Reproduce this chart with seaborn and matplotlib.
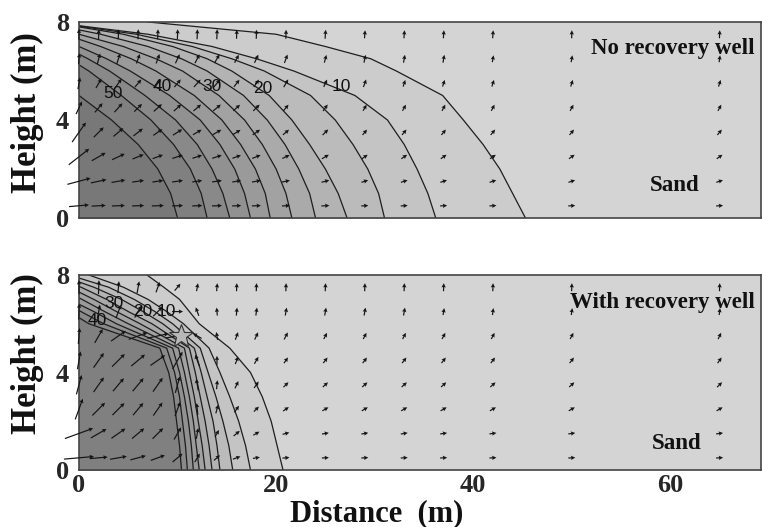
import numpy as np
import matplotlib
matplotlib.use("Agg")
import matplotlib.pyplot as plt
import seaborn as sns

# ---------------- data ----------------
heights = [0, 1, 2, 3, 4, 5, 6, 6.5, 7, 7.5, 8]
levels = [5, 10, 15, 20, 25, 30, 35, 40, 45, 50, 55]

# x-position (m) of each concentration contour at each height, no recovery well
top_front = {
    5:  [45.3, 44.0, 42.7, 41.0, 39.0, 36.9, 32.2, 29.6, 25.0, 20.0, 7.0],
    10: [36.2, 35.4, 34.3, 33.0, 31.3, 28.0, 21.8, 18.0, 13.5, 7.0, -3],
    15: [31.0, 30.4, 29.3, 27.8, 26.0, 23.5, 18.8, 15.5, 11.5, 5.8, -3],
    20: [27.2, 26.3, 25.0, 23.4, 21.6, 19.3, 15.5, 13.0, 9.5, 4.5, -3],
    25: [24.0, 23.4, 22.3, 20.9, 19.1, 16.7, 13.0, 10.4, 7.0, 2.2, -4],
    30: [21.6, 21.0, 20.0, 18.6, 16.8, 14.2, 10.5, 7.8, 4.5, 0.0, -5],
    35: [19.4, 18.9, 17.9, 16.4, 14.5, 11.7, 7.8, 5.3, 2.2, -1.5, -5],
    40: [17.4, 16.8, 15.8, 14.3, 12.3, 9.2, 5.2, 2.8, 0.0, -3, -6],
    45: [15.3, 14.6, 13.5, 12.0, 9.8, 6.7, 3.1, 0.9, -1.5, -4, -7],
    50: [13.0, 12.4, 11.3, 9.6, 7.3, 4.3, 1.0, -1.0, -3, -5, -8],
    55: [10.0, 9.3, 8.0, 6.0, 3.3, 0.0, -2, -3, -4, -6, -9],
}
# with recovery well
bot_front = {
    5:  [20.7, 20.1, 19.5, 18.6, 17.4, 15.3, 12.2, 11.2, 10.2, 8.6, 6.9],
    10: [17.4, 16.9, 16.2, 15.3, 14.3, 13.2, 10.6, 8.9, 7.0, 4.5, 1.0],
    15: [15.6, 15.2, 14.6, 13.9, 13.1, 12.3, 9.5, 7.7, 5.6, 3.0, -1],
    20: [14.3, 14.0, 13.6, 13.0, 12.4, 11.7, 8.5, 6.5, 4.3, 1.5, -2],
    25: [13.5, 13.2, 12.8, 12.3, 11.8, 11.2, 7.4, 5.0, 2.8, 0.2, -3],
    30: [12.8, 12.5, 12.1, 11.7, 11.2, 10.7, 6.2, 3.8, 1.5, -1, -4],
    35: [12.2, 11.9, 11.6, 11.2, 10.7, 10.1, 5.0, 2.6, 0.3, -2, -5],
    40: [11.6, 11.4, 11.1, 10.7, 10.2, 9.5, 3.8, 1.5, -1, -3, -6],
    45: [11.0, 10.8, 10.5, 10.2, 9.7, 8.9, 2.5, 0.2, -2, -4, -7],
    50: [10.4, 10.2, 9.9, 9.6, 9.1, 8.2, 1.0, -1, -3, -5, -8],
}

top_label_text = ["50", "40", "30", "20", "10"]
top_label_x = [3.4, 8.4, 13.5, 18.6, 26.6]
top_label_y = [5.1, 5.35, 5.35, 5.3, 5.35]
bot_label_text = ["40", "30", "20", "10"]
bot_label_x = [1.9, 3.6, 6.5, 8.9]
bot_label_y = [6.15, 6.85, 6.5, 6.5]

well_x = [10.3]
well_y = [5.5]

arrow_x = [0, 2, 4, 6, 8, 10, 12, 14, 16, 18, 21, 25, 29, 33, 37, 42, 50, 65]
arrow_y = [7.5, 6.5, 5.5, 4.5, 3.5, 2.5, 1.5, 0.5]

# relative velocity magnitude and direction (deg), rows top -> bottom
top_speed = [
    [11, 10, 10, 10, 10, 10, 10, 10, 9, 9, 9, 9, 8, 8, 8, 8, 8, 8],
    [11, 11, 11, 10, 10, 10, 10, 10, 9, 9, 9, 8, 8, 8, 8, 7, 7, 7],
    [12, 11, 11, 10, 10, 10, 10, 10, 9, 9, 9, 8, 8, 7, 7, 7, 7, 7],
    [14, 12, 12, 11, 11, 10, 10, 10, 9, 9, 8, 8, 7, 7, 7, 7, 7, 7],
    [24, 14, 13, 12, 11, 11, 10, 10, 9, 9, 8, 8, 7, 7, 7, 7, 7, 7],
    [26, 16, 14, 12, 11, 11, 10, 10, 9, 9, 8, 8, 7, 7, 7, 7, 7, 7],
    [24, 16, 14, 12, 11, 11, 10, 10, 9, 9, 8, 8, 7, 7, 7, 7, 7, 7],
    [20, 14, 13, 12, 12, 11, 10, 10, 9, 9, 8, 8, 7, 7, 7, 7, 7, 7],
]
top_angle = [
    [90, 88, 88, 88, 88, 88, 88, 88, 88, 88, 88, 86, 86, 86, 86, 86, 88, 88],
    [85, 75, 72, 70, 70, 65, 62, 60, 62, 65, 70, 75, 78, 80, 80, 80, 80, 82],
    [80, 60, 55, 50, 50, 50, 48, 50, 52, 55, 60, 65, 70, 72, 72, 72, 72, 72],
    [65, 50, 48, 45, 42, 42, 40, 40, 42, 45, 50, 55, 60, 60, 62, 62, 62, 62],
    [55, 45, 40, 38, 35, 32, 30, 30, 32, 35, 40, 45, 50, 50, 50, 50, 50, 50],
    [38, 30, 25, 22, 20, 18, 18, 18, 20, 22, 25, 30, 35, 35, 35, 35, 35, 35],
    [15, 12, 10, 8, 8, 8, 8, 8, 10, 10, 12, 15, 18, 18, 18, 18, 18, 18],
    [5, 3, 2, 2, 2, 2, 2, 2, 2, 2, 3, 3, 3, 3, 3, 3, 3, 3],
]
bot_speed = [
    [14, 14, 12, 12, 11, 9, 8, 8, 8, 8, 8, 8, 8, 8, 8, 8, 8, 8],
    [16, 14, 14, 14, 13, 11, 9, 8, 8, 8, 8, 8, 8, 8, 7, 7, 7, 7],
    [16, 16, 18, 20, 22, 24, 10, 8, 8, 8, 8, 7, 7, 7, 7, 7, 7, 7],
    [18, 18, 18, 18, 18, 20, 12, 9, 8, 8, 7, 7, 7, 7, 7, 7, 7, 7],
    [20, 18, 17, 17, 17, 17, 12, 9, 8, 8, 7, 7, 7, 7, 7, 7, 7, 7],
    [22, 18, 17, 16, 16, 15, 12, 9, 8, 7, 7, 7, 7, 7, 7, 7, 7, 7],
    [30, 18, 17, 16, 15, 14, 11, 8, 8, 7, 7, 7, 7, 7, 7, 7, 7, 7],
    [30, 18, 17, 16, 15, 13, 10, 8, 8, 7, 7, 7, 7, 7, 7, 7, 7, 7],
]
bot_angle = [
    [90, 88, 85, 80, 70, 50, 80, 85, 88, 88, 88, 88, 88, 88, 88, 88, 88, 88],
    [88, 80, 70, 60, 45, 0, 110, 95, 85, 82, 80, 80, 80, 80, 80, 82, 82, 82],
    [85, 60, 35, 20, 12, 10, 150, 100, 70, 65, 62, 62, 62, 62, 62, 62, 62, 65],
    [80, 55, 45, 40, 35, 60, 110, 90, 70, 60, 55, 52, 52, 52, 52, 52, 52, 55],
    [75, 55, 50, 50, 55, 75, 100, 85, 65, 55, 45, 42, 42, 42, 42, 42, 42, 45],
    [70, 45, 45, 50, 55, 70, 95, 75, 55, 45, 35, 30, 30, 30, 30, 30, 30, 30],
    [20, 30, 35, 40, 45, 60, 80, 60, 40, 30, 15, 10, 10, 10, 8, 8, 8, 8],
    [5, 5, 10, 15, 20, 40, 60, 40, 20, 10, 5, 3, 3, 3, 3, 3, 3, 3],
]

x_ticks = [0, 10, 20, 30, 40, 50, 60]
x_ticklabels = ["0", "", "20", "", "40", "", "60"]
y_ticks = [0, 4, 8]

# ---------------- style ----------------
sns.set_theme(style="white")
plt.rcParams["font.family"] = ["Liberation Serif", "DejaVu Serif"]

W, H = 762, 527
fig = plt.figure(figsize=(W / 100, H / 100), dpi=100)
fig.patch.set_facecolor("white")

ax_top = fig.add_axes([79 / W, 1 - 218 / H, 682 / W, 196 / H])
ax_bot = fig.add_axes([79 / W, 1 - 470 / H, 682 / W, 195 / H])

bg = "#d4d4d4"


def shade(level):
    g = 0.80 - 0.33 * (level - 5) / 50.0
    return (g, g, g)


def draw_panel(ax, fronts, speed, angle, lab_t, lab_x, lab_y):
    ax.set_facecolor(bg)
    for lev in sorted(fronts):
        ax.fill_betweenx(heights, 0, fronts[lev], color=shade(lev), lw=0, zorder=1)
    for lev in sorted(fronts):
        sns.lineplot(x=fronts[lev], y=heights, sort=False, estimator=None,
                     color="#1e1e1e", lw=0.9, ax=ax, zorder=2)
    sp = np.array(speed, dtype=float)
    an = np.deg2rad(np.array(angle, dtype=float))
    X, Y = np.meshgrid(arrow_x, arrow_y)
    ax.quiver(X, Y, sp * np.cos(an), sp * np.sin(an), angles="uv",
              scale_units="dots", scale=1.0, units="dots", width=1.2,
              headwidth=3.6, headlength=3.6, headaxislength=3.2,
              pivot="mid", color="#151515", zorder=4, clip_on=False)
    for t, x, y in zip(lab_t, lab_x, lab_y):
        ax.text(x, y, t, fontsize=12.5,
                family=["Liberation Sans Narrow", "Liberation Sans"],
                ha="center", va="center", color="#111", zorder=5)
    ax.set_xlim(0, 69.2)
    ax.set_ylim(0, 8)
    ax.set_xticks(x_ticks)
    ax.set_yticks(y_ticks)
    ax.tick_params(axis="x", direction="in", length=15, width=1.0,
                   color="#333", labelsize=19, pad=3)
    ax.tick_params(axis="y", length=0, labelsize=19, pad=7)
    for lbl in ax.get_xticklabels() + ax.get_yticklabels():
        lbl.set_fontweight("bold")
    for s in ax.spines.values():
        s.set_color("#444")
        s.set_linewidth(1.2)
    ax.set_xlabel("")
    ax.set_ylabel("")


draw_panel(ax_top, top_front, top_speed, top_angle,
           top_label_text, top_label_x, top_label_y)
draw_panel(ax_bot, bot_front, bot_speed, bot_angle,
           bot_label_text, bot_label_x, bot_label_y)

ax_top.set_xticklabels([])
ax_bot.set_xticklabels(x_ticklabels)
for lbl in ax_bot.get_xticklabels():
    lbl.set_fontweight("bold")

ax_bot.plot(well_x, well_y, marker="*", ms=18, mfc="#b8b8b8", mec="#333",
            mew=0.8, ls="none", zorder=6)

txt = dict(fontsize=16.5, fontweight="bold", color="#111", zorder=7)
ax_top.text(0.991, 0.867, "No recovery well", transform=ax_top.transAxes,
            ha="right", va="center", **txt)
ax_top.text(0.874, 0.168, "Sand", transform=ax_top.transAxes,
            ha="center", va="center", **txt)
ax_bot.text(0.991, 0.86, "With recovery well", transform=ax_bot.transAxes,
            ha="right", va="center", **txt)
ax_bot.text(0.877, 0.138, "Sand", transform=ax_bot.transAxes,
            ha="center", va="center", **txt)

fig.text(27 / W, 1 - 113 / H, "Height (m)", rotation=90, ha="center",
         va="center", fontsize=25, fontweight="bold", color="#111")
fig.text(27 / W, 1 - 354 / H, "Height (m)", rotation=90, ha="center",
         va="center", fontsize=25, fontweight="bold", color="#111")
fig.text(377 / W, 1 - 514 / H, "Distance  (m)", ha="center", va="center",
         fontsize=22, fontweight="bold", color="#111")

fig.savefig("out.png", dpi=100)
